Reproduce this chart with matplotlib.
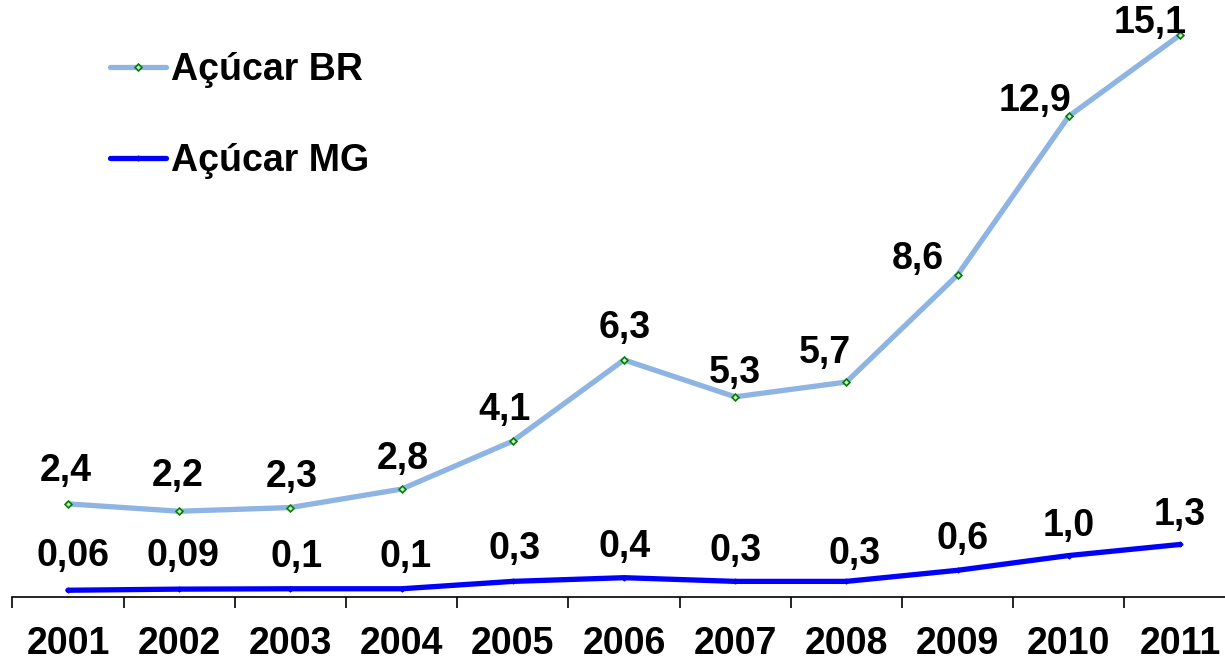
import matplotlib.pyplot as plt
import numpy as np

plt.rcParams['font.family'] = ['Liberation Sans', 'DejaVu Sans']
plt.rcParams['font.weight'] = 'bold'

years = ['2001', '2002', '2003', '2004', '2005', '2006', '2007', '2008', '2009', '2010', '2011']
acucar_br = [2.4, 2.2, 2.3, 2.8, 4.1, 6.3, 5.3, 5.7, 8.6, 12.9, 15.1]
acucar_mg = [0.06, 0.09, 0.1, 0.1, 0.3, 0.4, 0.3, 0.3, 0.6, 1.0, 1.3]
labels_br = ['2,4', '2,2', '2,3', '2,8', '4,1', '6,3', '5,3', '5,7', '8,6', '12,9', '15,1']
labels_mg = ['0,06', '0,09', '0,1', '0,1', '0,3', '0,4', '0,3', '0,3', '0,6', '1,0', '1,3']

# label offsets in pixels (dx, dy) from each point
off_br = [(-2, 33), (-1, 35), (1, 31), (1, 30), (-8, 31), (1, 32),
          (0, 24), (-21, 29), (-40, 16), (-34, 15), (-30, 12)]
off_mg = [(5, 34), (4, 33), (6, 32), (4, 32), (2, 32), (1, 31),
          (0, 30), (8, 27), (5, 31), (0, 30), (0, 29)]

fig = plt.figure(figsize=(12.25, 6.61), dpi=100)
ax = fig.add_axes([0.0101, 0.097, 0.9985, 0.903])

x = np.arange(len(years))
ax.plot(x, acucar_br, color='#8DB4E2', lw=3.8, marker='D', ms=3.5,
        mfc='#CFE8CF', mec='#008000', mew=1.2, solid_capstyle='round',
        label='Açúcar BR', zorder=3)
ax.plot(x, acucar_mg, color='#0000FF', lw=3.8, marker='D', ms=2.5,
        mfc='#0000FF', mec='#0000FF', solid_capstyle='round',
        label='Açúcar MG', zorder=3)

for i in range(len(years)):
    ax.annotate(labels_br[i], (x[i], acucar_br[i]), xytext=off_br[i],
                textcoords='offset pixels', ha='center', va='center',
                fontsize=27, fontweight='bold')
    ax.annotate(labels_mg[i], (x[i], acucar_mg[i]), xytext=off_mg[i],
                textcoords='offset pixels', ha='center', va='center',
                fontsize=27, fontweight='bold')

ax.set_xlim(-0.5, len(years) - 0.5)
ax.set_ylim(-0.12, 16.05)

ax.set_xticks(x)
ax.set_xticklabels(years, fontsize=27, fontweight='bold')
ax.set_xticks(np.arange(-0.5, len(years)), minor=True)
ax.tick_params(axis='x', which='major', length=0, pad=21)
ax.tick_params(axis='x', which='minor', length=8, width=1.2, direction='out')
ax.set_yticks([])
for side in ['top', 'right', 'left']:
    ax.spines[side].set_visible(False)
ax.spines['bottom'].set_linewidth(1.2)

ax.legend(loc='upper left', bbox_to_anchor=(0.0675, 0.938), frameon=False,
          handlelength=1.5, handletextpad=0.12, labelspacing=1.46,
          borderaxespad=0, prop={'weight': 'bold', 'size': 27})

fig.savefig('out.png', dpi=100)
